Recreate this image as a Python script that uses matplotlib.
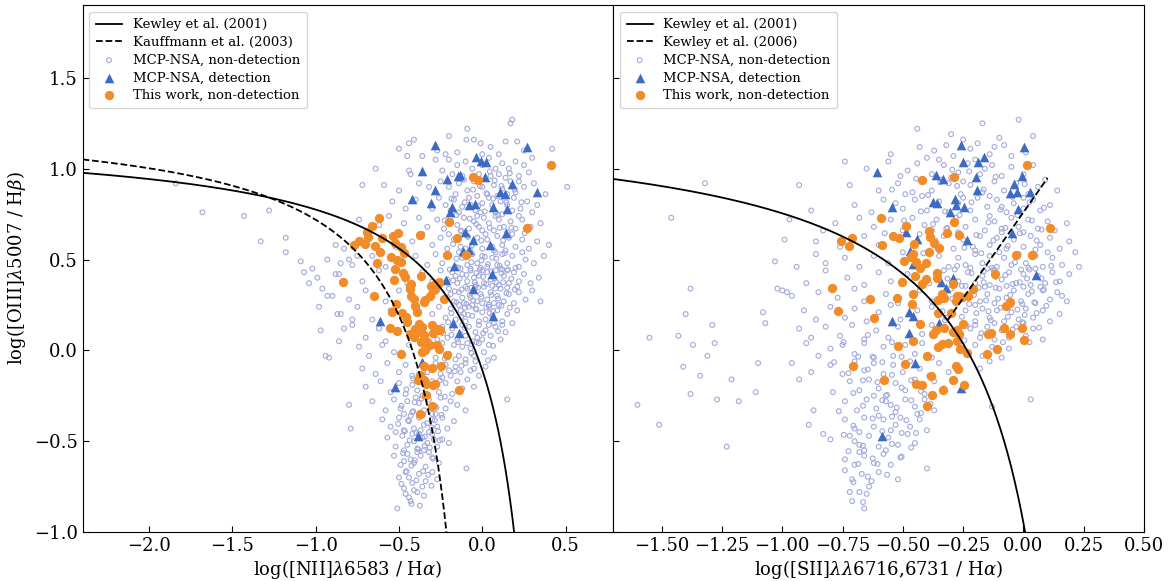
import numpy as np
import matplotlib
matplotlib.use("Agg")
import matplotlib.pyplot as plt

plt.rcParams['font.family'] = ['DejaVu Serif']
plt.rcParams['mathtext.fontset'] = 'dejavuserif'

# ---------------- data: [NII] BPT panel ----------------
nii_cloud = [
 (0.18,1.27),(0.17,1.25),(-0.09,1.22),(-0.2,1.18),(0.21,1.15),(0.14,1.15),(-0.05,1.16),(-0.095,1.16),
 (-0.41,1.16),(-0.44,1.14),(-0.5,1.11),(0.42,1.11),(-0.01,1.14),(-0.27,1.10),(0.05,1.12),(0.25,1.10),(-0.15,1.09),(0.1,1.08),(-0.22,1.08),(0.0,1.08),
 (-0.45,1.07),(-0.36,1.07),(-0.28,1.05),(-0.64,1.0),(-0.44,0.99),(-0.43,0.97),(-0.2,1.05),(-0.15,1.02),(-0.1,1.04),(-0.06,1.0),(0.0,1.02),(0.04,1.06),(0.08,1.0),(0.12,1.03),(0.16,1.0),(0.2,1.04),(0.25,1.02),(0.28,0.98),(-0.24,0.99),(-0.18,0.97),(-0.12,0.96),(0.05,0.96),(0.1,0.97),(0.14,0.95),(0.22,0.96),(-0.02,0.97),(0.3,1.06),
 (-0.72,0.91),(-0.59,0.91),(-0.5,0.88),(-0.38,0.92),(-0.32,0.9),(-0.25,0.93),(-0.2,0.9),(-0.14,0.92),(-0.09,0.88),(-0.05,0.93),(0.0,0.9),(0.03,0.86),(0.07,0.91),(0.12,0.89),(0.17,0.93),(0.2,0.87),(0.25,0.9),(0.31,0.92),(0.38,0.86),(0.51,0.90),(-0.16,0.86),(-0.11,0.94),(0.09,0.85),(0.15,0.86),(-0.03,0.85),(0.22,0.93),
 (-0.54,0.82),(-0.46,0.78),(-0.4,0.83),(-0.3,0.78),(-0.26,0.84),(-0.22,0.8),(-0.17,0.83),(-0.12,0.79),(-0.08,0.84),(-0.04,0.77),(0.0,0.81),(0.04,0.84),(0.08,0.76),(0.11,0.82),(0.15,0.8),(0.19,0.84),(0.23,0.78),(0.27,0.82),(0.33,0.8),(0.3,0.76),(-0.14,0.76),(-0.01,0.76),(0.06,0.8),(0.12,0.75),(-0.19,0.77),(0.18,0.77),(-0.07,0.8),
 (-1.84,0.92),(-1.68,0.76),(-1.43,0.74),(-1.28,0.77),(-1.18,0.62),(-1.33,0.60),(-1.18,0.54),(-1.09,0.49),(-1.07,0.43),(-1.02,0.45),(-0.99,0.40),(-1.04,0.37),(-0.96,0.34),(-0.93,0.30),(-0.98,0.24),(-0.88,0.42),(-0.85,0.48),(-0.80,0.50),(-0.83,0.56),(-0.75,0.52),(-0.97,0.11),(-0.94,-0.03),(-0.92,-0.04),(-0.79,-0.43),(-0.87,0.20),(-0.83,0.12),(-0.78,0.17),(-0.86,0.05),
 (-0.74,0.72),(-0.62,0.69),(-0.56,0.74),(-0.47,0.7),(-0.38,0.73),(-0.33,0.68),(-0.27,0.72),(-0.23,0.67),(-0.19,0.73),(-0.15,0.69),(-0.11,0.73),(-0.08,0.67),(-0.05,0.71),(-0.02,0.68),(0.01,0.73),(0.04,0.7),(0.07,0.66),(0.1,0.72),(0.13,0.68),(0.17,0.71),(0.2,0.67),(0.24,0.72),(0.29,0.68),(0.35,0.7),(0.22,0.74),(-0.13,0.66),(0.0,0.66),(0.15,0.65),(-0.03,0.74),(0.08,0.74),
 (-0.88,0.58),(-0.71,0.6),(-0.6,0.62),(-0.52,0.57),(-0.42,0.6),(-0.36,0.64),(-0.3,0.58),(-0.25,0.62),(-0.21,0.56),(-0.17,0.61),(-0.13,0.57),(-0.09,0.63),(-0.06,0.58),(-0.03,0.62),(0.0,0.56),(0.03,0.61),(0.06,0.57),(0.09,0.63),(0.12,0.58),(0.16,0.62),(0.2,0.57),(0.24,0.61),(0.28,0.56),(0.33,0.6),(0.4,0.58),(-0.1,0.56),(0.14,0.55),(0.02,0.64),(-0.2,0.64),(0.18,0.64),(0.07,0.55),(-0.07,0.55),
 (-0.93,0.5),(-0.78,0.47),(-0.66,0.52),(-0.58,0.46),(-0.4,0.52),(-0.33,0.47),(-0.28,0.53),(-0.24,0.48),(-0.2,0.52),(-0.16,0.46),(-0.12,0.51),(-0.09,0.47),(-0.06,0.53),(-0.03,0.48),(0.0,0.52),(0.03,0.46),(0.06,0.51),(0.09,0.47),(0.12,0.53),(0.15,0.48),(0.18,0.52),(0.22,0.46),(0.26,0.5),(0.31,0.48),(0.37,0.52),(-0.14,0.54),(-0.01,0.455),(0.08,0.54),(0.2,0.455),(-0.07,0.45),(0.11,0.45),(0.24,0.54),
 (-0.86,0.42),(-0.72,0.38),(-0.62,0.44),(-0.45,0.37),(-0.36,0.43),(-0.3,0.38),(-0.25,0.44),(-0.21,0.39),(-0.18,0.43),(-0.15,0.37),(-0.12,0.42),(-0.09,0.38),(-0.07,0.44),(-0.04,0.36),(-0.02,0.41),(0.01,0.37),(0.03,0.43),(0.05,0.39),(0.08,0.44),(0.1,0.36),(0.13,0.41),(0.16,0.37),(0.19,0.43),(0.22,0.38),(0.25,0.42),(0.29,0.37),(0.34,0.4),(-0.1,0.35),(0.0,0.44),(0.06,0.355),(-0.16,0.41),(0.12,0.445),(-0.05,0.4),(0.15,0.44),(0.21,0.35),(-0.13,0.45),
 (-0.9,0.3),(-0.8,0.28),(-0.7,0.33),(-0.58,0.27),(-0.5,0.33),(-0.27,0.33),(-0.23,0.28),(-0.2,0.34),(-0.17,0.27),(-0.14,0.32),(-0.11,0.26),(-0.09,0.34),(-0.07,0.29),(-0.05,0.33),(-0.03,0.27),(-0.01,0.31),(0.01,0.35),(0.03,0.28),(0.05,0.32),(0.07,0.26),(0.09,0.3),(0.11,0.34),(0.13,0.27),(0.16,0.31),(0.19,0.26),(0.22,0.32),(0.26,0.28),(0.35,0.27),(0.3,0.33),(-0.12,0.29),(-0.06,0.25),(0.0,0.26),(-0.04,0.35),(0.04,0.25),(0.08,0.34),(-0.19,0.31),(0.15,0.345),
 (-0.85,0.2),(-0.75,0.24),(-0.66,0.17),(-0.55,0.22),(-0.3,0.2),(-0.26,0.24),(-0.22,0.18),(-0.19,0.23),(-0.16,0.17),(-0.13,0.22),(-0.1,0.16),(-0.08,0.24),(-0.06,0.19),(-0.04,0.23),(-0.02,0.16),(0.0,0.21),(0.02,0.17),(0.04,0.24),(0.06,0.19),(0.09,0.22),(0.12,0.16),(0.15,0.2),(0.18,0.15),(0.21,0.22),(-0.14,0.25),(0.1,0.25),(-0.11,0.2),(0.07,0.15),
 (-0.78,0.14),(-0.7,0.07),(-0.62,0.12),(-0.58,0.05),(-0.27,0.06),(-0.24,0.13),(-0.21,0.07),(-0.18,0.12),(-0.15,0.06),(-0.12,0.14),(-0.1,0.08),(-0.08,0.13),(-0.06,0.05),(-0.04,0.1),(-0.02,0.14),(0.0,0.06),(0.02,0.11),(0.05,0.08),(0.08,0.13),(0.11,0.06),(0.14,0.1),(-0.13,0.09),(-0.03,0.07),(0.04,0.14),
 (-0.74,0.02),(-0.68,-0.03),(-0.6,0.03),(-0.53,-0.01),(-0.44,0.03),(-0.28,-0.04),(-0.24,0.04),(-0.2,-0.02),(-0.17,0.03),(-0.14,-0.03),(-0.12,0.02),(-0.1,-0.05),(-0.07,0.01),(-0.05,-0.03),(-0.02,0.04),(0.01,-0.01),(0.04,0.03),(0.07,-0.04),(-0.16,-0.05),(-0.09,0.04),
 (-0.72,-0.1),(-0.64,-0.13),(-0.57,-0.07),(-0.5,-0.12),(-0.46,-0.08),(-0.42,-0.14),(-0.33,-0.12),(-0.28,-0.07),(-0.25,-0.13),(-0.22,-0.08),(-0.19,-0.14),(-0.16,-0.09),(-0.13,-0.12),(-0.1,-0.07),(-0.07,-0.11),(-0.04,-0.06),(-0.02,-0.14),(0.02,-0.09),(-0.3,-0.1),(-0.2,-0.11),
 (-0.7,-0.2),(-0.61,-0.17),(-0.55,-0.23),(-0.5,-0.18),(-0.46,-0.24),(-0.42,-0.19),(-0.39,-0.22),(-0.3,-0.17),(-0.26,-0.23),(-0.22,-0.18),(-0.18,-0.24),(-0.15,-0.17),(-0.12,-0.21),(-0.09,-0.16),(-0.05,-0.2),(0.15,-0.27),(-0.36,-0.25),(-0.24,-0.15),
 (-0.8,-0.3),(-0.66,-0.28),(-0.58,-0.33),(-0.53,-0.27),(-0.49,-0.32),(-0.45,-0.28),(-0.42,-0.34),(-0.38,-0.29),(-0.35,-0.33),(-0.32,-0.27),(-0.28,-0.31),(-0.25,-0.26),(-0.22,-0.32),(-0.19,-0.28),(-0.15,-0.3),(-0.1,-0.33),(-0.4,-0.26),(-0.3,-0.35),(-0.47,-0.35),
 (-0.6,-0.38),(-0.55,-0.42),(-0.5,-0.37),(-0.47,-0.44),(-0.44,-0.39),(-0.41,-0.43),(-0.38,-0.37),(-0.35,-0.41),(-0.32,-0.45),(-0.3,-0.38),(-0.27,-0.42),(-0.24,-0.37),(-0.21,-0.43),(-0.17,-0.39),(-0.43,-0.36),(-0.37,-0.44),(-0.52,-0.45),(-0.28,-0.35),(-0.33,-0.4),
 (-0.57,-0.48),(-0.52,-0.53),(-0.48,-0.47),(-0.45,-0.52),(-0.42,-0.46),(-0.39,-0.54),(-0.36,-0.48),(-0.33,-0.51),(-0.3,-0.46),(-0.27,-0.53),(-0.24,-0.49),(-0.2,-0.51),(-0.41,-0.5),(-0.35,-0.55),(-0.29,-0.49),(-0.47,-0.55),(-0.38,-0.46),
 (-0.53,-0.58),(-0.49,-0.63),(-0.45,-0.57),(-0.41,-0.62),(-0.37,-0.58),(-0.34,-0.64),(-0.3,-0.59),(-0.26,-0.62),(-0.43,-0.6),(-0.39,-0.56),(-0.32,-0.56),(-0.095,-0.65),(-0.47,-0.61),
 (-0.5,-0.7),(-0.46,-0.67),(-0.42,-0.73),(-0.38,-0.68),(-0.34,-0.72),(-0.3,-0.67),(-0.44,-0.7),(-0.36,-0.75),(-0.27,-0.71),
 (-0.51,-0.87),(-0.46,-0.79),(-0.39,-0.78),(-0.43,-0.83),(-0.47,-0.76),(-0.41,-0.77),(-0.35,-0.8),(-0.44,-0.81),
]

nii_cloud_dense = [
 (-0.185,0.205),(-0.155,0.265),(-0.125,0.335),(-0.095,0.415),(-0.065,0.485),(-0.035,0.225),(-0.005,0.295),(0.025,0.365),(0.055,0.435),(0.085,0.505),
 (0.115,0.245),(0.145,0.315),(-0.175,0.385),(-0.145,0.455),(-0.115,0.525),(-0.085,0.195),(-0.055,0.275),(-0.025,0.345),(0.005,0.405),(0.035,0.475),
 (0.065,0.215),(0.095,0.285),(0.125,0.375),(0.155,0.445),(-0.165,0.325),(-0.135,0.395),(-0.105,0.235),(-0.075,0.305),(-0.045,0.375),(-0.015,0.445),
 (0.015,0.515),(0.045,0.205),(0.075,0.395),(0.105,0.465),(0.135,0.535),(-0.155,0.505),(-0.125,0.185),(-0.095,0.255),(-0.065,0.345),(-0.035,0.425),
 (-0.005,0.495),(0.025,0.235),(0.055,0.305),(0.085,0.375),(0.115,0.425),(-0.195,0.445),(0.175,0.395),(0.195,0.335),(-0.21,0.29),(0.165,0.235),
 (-0.175,0.585),(-0.125,0.655),(-0.075,0.725),(-0.025,0.795),(0.025,0.865),(0.075,0.935),(0.125,0.605),(0.175,0.675),(-0.155,0.745),(-0.105,0.815),
 (-0.055,0.885),(-0.005,0.605),(0.045,0.675),(0.095,0.745),(0.145,0.815),(0.195,0.885),(-0.135,0.955),(-0.085,0.625),(-0.035,0.695),(0.015,0.765),
 (0.065,0.835),(0.115,0.905),(0.165,0.975),(-0.185,0.835),(0.235,0.815),(0.255,0.645),(-0.225,0.715),(0.045,0.985),(-0.015,0.905),(0.105,0.675),
 (-0.455,-0.215),(-0.405,-0.285),(-0.355,-0.355),(-0.305,-0.425),(-0.255,-0.495),(-0.475,-0.565),(-0.425,-0.635),(-0.375,-0.175),(-0.325,-0.245),(-0.275,-0.315),
 (-0.445,-0.385),(-0.395,-0.455),(-0.345,-0.525),(-0.295,-0.595),(-0.485,-0.305),(-0.435,-0.495),(-0.385,-0.545),(-0.335,-0.195),(-0.285,-0.385),(-0.465,-0.445),
 (-0.415,-0.335),(-0.365,-0.265),(-0.315,-0.535),(-0.265,-0.445),(-0.405,-0.605),(-0.355,-0.665),(-0.455,-0.665),(-0.395,-0.715),(-0.345,-0.475),(-0.505,-0.405),
 (-0.245,-0.355),(-0.225,-0.255),(-0.355,-0.125),(-0.255,-0.165),(-0.415,-0.155),(-0.425,-0.845),(-0.375,-0.855),(-0.485,-0.735),(-0.325,-0.685),(-0.305,-0.745),
 (-0.225,-0.045),(-0.185,0.085),(-0.165,-0.115),(-0.205,0.155),(-0.145,0.045),(-0.235,0.095),(-0.125,-0.085),(-0.105,0.125),(-0.065,-0.015),(-0.035,0.045),
 (0.005,0.095),(0.035,-0.055),(0.065,0.025),(0.095,0.105),(-0.05,-0.1),(0.12,0.14),
]

nii_det = [
 (-0.285,1.130),(0.266,1.119),(-0.04,1.062),(-0.01,1.04),(0.02,1.038),(-0.364,0.985),(-0.131,0.967),(-0.147,0.96),
 (0.019,0.956),(-0.213,0.945),(-0.285,0.883),(0.181,0.916),(0.105,0.874),(0.139,0.863),(0.33,0.874),(-0.424,0.832),
 (-0.309,0.813),(-0.183,0.788),(-0.195,0.764),(-0.081,0.80),(-0.041,0.806),(0.065,0.788),(0.15,0.778),(-0.101,0.654),
 (0.144,0.647),(-0.055,0.61),(0.049,0.581),(-0.115,0.549),(-0.077,0.555),(-0.167,0.463),(0.057,0.418),(-0.217,0.39),
 (-0.057,0.339),(0.063,0.187),(-0.616,0.163),(-0.173,0.15),(-0.137,0.097),(-0.361,-0.064),(-0.526,-0.2),(-0.383,-0.473),
]

nii_this = [
 (0.41,1.022),(-0.057,0.952),(-0.027,0.938),(-0.622,0.729),(-0.66,0.683),(-0.199,0.709),(0.27,0.674),(-0.692,0.65),
 (-0.504,0.648),(-0.538,0.63),(-0.371,0.637),(-0.742,0.604),(-0.768,0.582),(-0.706,0.586),(-0.688,0.623),(-0.151,0.617),
 (-0.644,0.575),(-0.604,0.619),(-0.526,0.593),(-0.486,0.568),(-0.616,0.54),(-0.468,0.535),(-0.546,0.513),(-0.211,0.526),
 (-0.097,0.526),(-0.511,0.495),(-0.487,0.485),(-0.634,0.48),(-0.522,0.449),(-0.476,0.427),(-0.464,0.403),(-0.367,0.408),
 (-0.528,0.39),(-0.838,0.374),(-0.43,0.366),(-0.265,0.366),(-0.289,0.335),(-0.436,0.339),(-0.648,0.298),(-0.431,0.357),
 (-0.305,0.352),(-0.281,0.366),(-0.261,0.375),(-0.295,0.33),(-0.311,0.302),(-0.341,0.275),(-0.352,0.265),(-0.425,0.302),
 (-0.412,0.284),(-0.401,0.247),(-0.391,0.21),(-0.231,0.284),(-0.52,0.253),(-0.541,0.21),(-0.481,0.207),(-0.46,0.183),
 (-0.451,0.156),(-0.554,0.123),(-0.512,0.104),(-0.431,0.092),(-0.401,0.119),(-0.381,0.147),(-0.391,0.101),(-0.361,0.128),
 (-0.412,0.073),(-0.352,0.082),(-0.301,0.137),(-0.295,0.095),(-0.267,0.119),(-0.251,0.11),(-0.365,0.046),(-0.331,0.046),
 (-0.311,0.027),(-0.271,0.027),(-0.261,0.009),(-0.361,-0.009),(-0.341,0.0),(-0.212,-0.027),(-0.487,-0.022),(-0.352,-0.088),
 (-0.301,-0.095),(-0.245,-0.086),(-0.371,-0.137),(-0.352,-0.161),(-0.385,-0.165),(-0.337,-0.183),(-0.296,-0.192),(-0.281,-0.187),
 (-0.141,-0.22),(-0.337,-0.247),(-0.301,-0.308),(-0.371,-0.348),
]

# ---------------- data: [SII] BPT panel ----------------
sii_cloud = [
 (-0.02,1.27),(-0.17,1.25),(-0.44,1.22),(-0.1,1.17),(-0.3,1.19),(-0.25,1.16),(0.04,1.18),
 (-0.43,1.12),(-0.37,1.1),(-0.32,1.13),(-0.22,1.11),(-0.14,1.08),(-0.08,1.13),(-0.05,1.07),(0.01,1.09),(-0.29,1.07),(-0.4,1.06),(-0.19,1.14),(-0.55,1.08),(-0.12,1.12),
 (-0.74,1.04),(-0.65,1.0),(-0.56,1.04),(-0.48,0.99),(-0.44,1.03),(-0.38,0.97),(-0.33,1.02),(-0.27,0.98),(-0.23,1.03),(-0.18,0.97),(-0.13,1.02),(-0.09,0.96),(-0.05,1.01),(0.0,0.97),(0.04,1.02),(-0.51,0.96),(-0.3,0.95),(-0.16,1.0),(-0.2,1.05),(-0.35,1.05),
 (-0.93,0.91),(-0.72,0.91),(-0.6,0.88),(-0.52,0.92),(-0.46,0.87),(-0.42,0.93),(-0.38,0.88),(-0.31,0.92),(-0.26,0.86),(-0.22,0.91),(-0.17,0.87),(-0.12,0.93),(-0.08,0.88),(-0.03,0.92),(0.02,0.86),(0.06,0.9),(0.14,0.88),(-0.49,0.86),(-0.34,0.94),(-0.14,0.85),(0.09,0.94),(-0.25,0.93),
 (-1.32,0.92),(-0.88,0.77),(-0.7,0.8),(-0.63,0.76),(-0.58,0.83),(-0.5,0.78),(-0.45,0.83),(-0.4,0.77),(-0.35,0.82),(-0.31,0.76),(-0.27,0.81),(-0.22,0.77),(-0.19,0.84),(-0.15,0.79),(-0.11,0.83),(-0.07,0.76),(-0.04,0.81),(0.0,0.78),(0.04,0.83),(0.07,0.77),(0.11,0.8),(-0.42,0.85),(-0.25,0.84),(-0.09,0.79),(0.0,0.84),(-0.53,0.81),
 (-1.46,0.73),(-0.97,0.72),(-0.83,0.66),(-0.78,0.7),(-0.68,0.73),(-0.62,0.68),(-0.55,0.72),(-0.5,0.66),(-0.46,0.73),(-0.41,0.69),(-0.36,0.72),(-0.32,0.67),(-0.28,0.73),(-0.24,0.68),(-0.2,0.72),(-0.16,0.66),(-0.12,0.71),(-0.09,0.67),(-0.05,0.73),(-0.02,0.68),(0.02,0.72),(0.06,0.67),(0.1,0.71),(0.18,0.70),(0.13,0.66),(-0.38,0.66),(-0.14,0.74),(0.0,0.65),
 (-0.99,0.61),(-0.86,0.6),(-0.76,0.57),(-0.66,0.63),(-0.6,0.58),(-0.53,0.62),(-0.43,0.64),(-0.37,0.58),(-0.33,0.63),(-0.29,0.56),(-0.25,0.61),(-0.21,0.57),(-0.18,0.63),(-0.14,0.58),(-0.11,0.62),(-0.07,0.56),(-0.04,0.61),(0.0,0.57),(0.03,0.63),(0.07,0.58),(0.11,0.62),(0.15,0.56),(0.19,0.6),(-0.27,0.65),(-0.09,0.65),(0.05,0.555),(-0.2,0.55),
 (-1.03,0.49),(-0.94,0.46),(-0.86,0.53),(-0.82,0.48),(-0.74,0.51),(-0.68,0.46),(-0.62,0.52),(-0.56,0.48),(-0.5,0.54),(-0.41,0.47),(-0.35,0.52),(-0.31,0.46),(-0.27,0.51),(-0.24,0.47),(-0.2,0.53),(-0.17,0.48),(-0.14,0.52),(-0.11,0.46),(-0.08,0.51),(-0.05,0.47),(-0.02,0.53),(0.01,0.48),(0.05,0.52),(0.08,0.46),(0.12,0.51),(0.16,0.47),(0.215,0.54),(0.23,0.46),(-0.22,0.455),(-0.13,0.455),(0.02,0.455),(-0.1,0.54),(0.1,0.54),
 (-0.9,0.37),(-0.82,0.44),(-0.73,0.4),(-0.66,0.36),(-0.6,0.43),(-0.55,0.38),(-0.48,0.42),(-0.39,0.37),(-0.33,0.44),(-0.27,0.38),(-0.23,0.43),(-0.2,0.37),(-0.17,0.41),(-0.14,0.36),(-0.12,0.44),(-0.09,0.39),(-0.06,0.43),(-0.03,0.37),(0.0,0.42),(0.03,0.36),(0.06,0.41),(0.09,0.37),(0.12,0.43),(0.15,0.38),(0.19,0.42),(-0.15,0.45),(-0.01,0.445),(-0.24,0.355),(-0.07,0.355),(0.05,0.45),
 (-1.38,0.34),(-1.02,0.34),(-1.0,0.33),(-0.98,0.32),(-0.96,0.3),(-0.85,0.32),(-0.77,0.29),(-0.7,0.34),(-0.66,0.27),(-0.57,0.31),(-0.52,0.26),(-0.43,0.33),(-0.38,0.27),(-0.3,0.34),(-0.25,0.28),(-0.21,0.33),(-0.18,0.27),(-0.15,0.31),(-0.12,0.26),(-0.1,0.34),(-0.07,0.29),(-0.04,0.33),(-0.01,0.27),(0.02,0.31),(0.05,0.26),(0.08,0.33),(0.11,0.28),(0.14,0.32),(0.18,0.27),(-0.16,0.35),(-0.05,0.25),(0.0,0.35),(-0.2,0.25),(0.07,0.35),(0.16,0.3),
 (-1.4,0.2),(-1.08,0.21),(-0.91,0.22),(-0.86,0.17),(-0.8,0.24),(-0.74,0.18),(-0.7,0.23),(-0.65,0.16),(-0.6,0.21),(-0.55,0.25),(-0.51,0.17),(-0.44,0.22),(-0.38,0.24),(-0.32,0.18),(-0.24,0.22),(-0.2,0.16),(-0.17,0.23),(-0.14,0.18),(-0.11,0.22),(-0.08,0.16),(-0.05,0.21),(-0.02,0.17),(0.01,0.23),(0.04,0.18),(0.08,0.22),(0.11,0.16),(0.15,0.2),(-0.12,0.15),(0.0,0.15),
 (-1.29,0.14),(-1.07,0.15),(-1.43,0.08),(-1.55,0.07),(-0.93,0.12),(-0.88,0.07),(-0.82,0.13),(-0.76,0.08),(-0.71,0.14),(-0.66,0.06),(-0.61,0.11),(-0.56,0.07),(-0.52,0.13),(-0.42,0.09),(-0.38,0.14),(-0.22,0.12),(-0.18,0.07),(-0.15,0.13),(-0.12,0.06),(-0.09,0.11),(-0.06,0.07),(-0.03,0.13),(0.01,0.08),(0.04,0.12),(0.08,0.06),(-0.2,0.14),
 (-1.37,0.03),(-1.28,0.04),(-1.31,-0.03),(-0.9,0.04),(-0.8,0.01),(-0.85,-0.03),(-0.75,0.03),(-0.7,-0.02),(-0.66,0.04),(-0.62,-0.04),(-0.58,0.02),(-0.54,-0.03),(-0.49,0.03),(-0.45,-0.02),(-0.42,0.04),(-0.38,-0.04),(-0.2,0.03),(-0.17,-0.03),(-0.13,0.02),(-0.09,-0.04),(-0.06,0.01),
 (-1.1,-0.07),(-1.41,-0.09),(-1.34,-0.14),(-0.96,-0.07),(-0.88,-0.12),(-0.8,-0.08),(-0.75,-0.13),(-0.7,-0.06),(-0.66,-0.11),(-0.62,-0.07),(-0.58,-0.13),(-0.54,-0.08),(-0.5,-0.12),(-0.47,-0.06),(-0.43,-0.1),(-0.39,-0.14),(-0.35,-0.07),(-0.31,-0.12),(-0.18,-0.1),(-0.14,-0.06),
 (-1.21,-0.16),(-1.38,-0.24),(-1.11,-0.23),(-0.93,-0.16),(-0.79,-0.23),(-0.72,-0.17),(-0.68,-0.22),(-0.64,-0.16),(-0.6,-0.21),(-0.57,-0.25),(-0.53,-0.18),(-0.49,-0.22),(-0.45,-0.16),(-0.41,-0.24),(-0.37,-0.17),(-0.33,-0.21),(-0.29,-0.16),(-0.62,-0.25),
 (-1.6,-0.3),(-1.27,-0.27),(-1.18,-0.28),(-0.87,-0.33),(-0.74,-0.28),(-0.69,-0.33),(-0.65,-0.27),(-0.61,-0.32),(-0.57,-0.28),(-0.53,-0.34),(-0.49,-0.27),(-0.45,-0.31),(-0.41,-0.27),(-0.37,-0.33),(-0.13,-0.31),(0.03,-0.27),(-0.55,-0.3),(-0.44,-0.35),
 (-1.51,-0.41),(-0.89,-0.41),(-0.74,-0.38),(-0.7,-0.43),(-0.66,-0.37),(-0.62,-0.42),(-0.58,-0.38),(-0.55,-0.44),(-0.51,-0.37),(-0.47,-0.42),(-0.43,-0.38),(-0.4,-0.44),(-0.6,-0.36),(-0.68,-0.45),(-0.53,-0.41),
 (-1.23,-0.53),(-0.83,-0.46),(-0.8,-0.49),(-0.72,-0.47),(-0.68,-0.52),(-0.64,-0.47),(-0.6,-0.53),(-0.56,-0.48),(-0.52,-0.52),(-0.48,-0.46),(-0.45,-0.51),(-0.66,-0.55),(-0.57,-0.55),(-0.7,-0.5),
 (-0.74,-0.6),(-0.7,-0.63),(-0.66,-0.58),(-0.62,-0.62),(-0.58,-0.57),(-0.55,-0.63),(-0.51,-0.59),(-0.4,-0.65),(-0.68,-0.56),
 (-0.74,-0.66),(-0.71,-0.71),(-0.67,-0.68),(-0.63,-0.72),(-0.6,-0.67),(-0.52,-0.71),(-0.64,-0.75),
 (-0.66,-0.87),(-0.71,-0.83),(-0.65,-0.79),(-0.72,-0.78),(-0.68,-0.78),
]

sii_cloud_dense = [
 (-0.335,0.215),(-0.295,0.285),(-0.255,0.355),(-0.215,0.425),(-0.175,0.095),(-0.135,0.165),(-0.095,0.235),(-0.055,0.305),(-0.015,0.375),(0.025,0.445),
 (0.065,0.125),(-0.315,0.395),(-0.275,0.465),(-0.235,0.135),(-0.195,0.205),(-0.155,0.275),(-0.115,0.345),(-0.075,0.415),(-0.035,0.485),(0.005,0.195),
 (0.045,0.265),(0.085,0.335),(-0.245,0.055),(-0.205,0.305),(-0.165,0.375),(-0.125,0.445),(-0.085,0.045),(-0.045,0.115),(-0.005,0.255),(0.035,0.325),
 (0.075,0.395),(0.115,0.465),(-0.325,0.165),(-0.285,0.445),(-0.145,0.215),(-0.105,0.285),(-0.065,0.185),(-0.025,0.225),(0.015,0.395),(0.055,0.205),
 (-0.185,0.345),(-0.225,0.255),(0.095,0.245),(0.135,0.375),(-0.255,0.185),(-0.115,0.405),(-0.045,0.365),(0.025,0.045),(-0.005,0.155),(-0.165,0.435),
 (-0.415,0.535),(-0.365,0.605),(-0.315,0.675),(-0.265,0.745),(-0.215,0.815),(-0.165,0.885),(-0.115,0.955),(-0.065,0.575),(-0.015,0.645),(0.035,0.715),
 (0.085,0.785),(-0.395,0.855),(-0.345,0.925),(-0.295,0.995),(-0.245,0.565),(-0.195,0.635),(-0.145,0.705),(-0.095,0.775),(-0.045,0.845),(0.005,0.915),
 (0.055,0.605),(-0.425,0.765),(-0.375,0.695),(-0.325,0.765),(-0.275,0.905),(-0.225,0.985),(-0.175,0.535),(-0.125,0.605),(-0.075,0.675),(-0.025,0.745),
 (0.025,0.815),(0.075,0.665),(-0.445,0.945),(-0.495,0.715),(-0.545,0.885),(-0.575,0.645),
 (-0.685,-0.035),(-0.645,-0.105),(-0.605,-0.175),(-0.565,-0.245),(-0.525,-0.315),(-0.485,-0.385),(-0.445,-0.455),(-0.665,-0.525),(-0.625,-0.595),(-0.585,-0.065),
 (-0.545,-0.135),(-0.505,-0.205),(-0.465,-0.275),(-0.425,-0.345),(-0.705,-0.415),(-0.665,-0.305),(-0.625,-0.375),(-0.585,-0.445),(-0.545,-0.515),(-0.505,-0.585),
 (-0.705,-0.235),(-0.665,-0.165),(-0.625,-0.035),(-0.585,-0.275),(-0.545,-0.365),(-0.505,-0.455),(-0.465,-0.535),(-0.685,-0.625),(-0.645,-0.695),(-0.605,-0.625),
 (-0.565,-0.685),(-0.725,-0.555),(-0.745,-0.465),(-0.765,-0.335),(-0.725,-0.125),(-0.465,-0.165),(-0.425,-0.225),(-0.385,-0.295),(-0.505,-0.035),(-0.545,0.045),
 (-0.645,0.085),(-0.745,0.045),(-0.785,-0.065),(-0.705,-0.725),(-0.665,-0.835),
]

sii_det = [
 (-0.257,1.13),(0.002,1.117),(-0.25,1.035),(-0.189,1.037),(-0.163,1.062),(-0.605,0.984),(-0.363,0.965),(-0.335,0.943),
 (-0.198,0.952),(-0.006,0.958),(-0.039,0.916),(-0.192,0.883),(-0.054,0.864),(-0.027,0.874),(0.028,0.874),(-0.283,0.833),
 (-0.375,0.815),(-0.357,0.811),(-0.28,0.802),(-0.246,0.791),(-0.546,0.788),(-0.304,0.764),(-0.023,0.778),(-0.488,0.654),
 (-0.44,0.613),(-0.236,0.608),(-0.048,0.645),(-0.47,0.549),(-0.459,0.473),(0.05,0.416),(-0.342,0.375),(-0.294,0.396),
 (-0.321,0.342),(-0.473,0.21),(-0.457,0.187),(-0.546,0.161),(-0.349,0.15),(-0.473,0.095),(-0.448,-0.068),(-0.259,-0.205),
 (-0.585,-0.473),
]

sii_this = [
 (0.013,1.022),(-0.421,0.94),(-0.288,0.954),(-0.589,0.731),(-0.487,0.683),(-0.286,0.709),(0.112,0.676),(-0.39,0.656),
 (-0.316,0.647),(-0.268,0.636),(-0.54,0.628),(-0.517,0.617),(-0.711,0.621),(-0.758,0.601),(-0.725,0.573),(-0.586,0.581),
 (-0.388,0.623),(-0.371,0.592),(-0.349,0.566),(-0.454,0.586),(-0.39,0.544),(-0.457,0.531),(-0.466,0.513),(-0.445,0.485),
 (-0.495,0.493),(-0.404,0.48),(-0.429,0.452),(-0.032,0.526),(0.035,0.526),(-0.118,0.421),(-0.357,0.427),(-0.36,0.397),
 (-0.451,0.407),(-0.405,0.392),(-0.505,0.374),(-0.419,0.363),(-0.294,0.368),(-0.211,0.339),(-0.793,0.341),(-0.459,0.311),
 (-0.337,0.311),(-0.636,0.284),(-0.525,0.29),(-0.277,0.302),(-0.257,0.293),(-0.229,0.297),(-0.33,0.29),(-0.353,0.278),
 (-0.269,0.302),(-0.281,0.271),(-0.057,0.265),(-0.071,0.242),(-0.462,0.253),(-0.767,0.214),(-0.618,0.18),(-0.353,0.207),
 (-0.301,0.205),(-0.429,0.147),(-0.328,0.125),(-0.25,0.147),(-0.291,0.101),(-0.277,0.11),(-0.268,0.088),(-0.363,0.11),
 (-0.374,0.092),(-0.459,0.049),(-0.339,0.037),(-0.314,0.04),(-0.353,0.018),(-0.277,0.049),(-0.264,0.009),(-0.232,-0.013),
 (-0.145,0.092),(-0.134,0.097),(-0.082,0.123),(-0.056,0.092),(-0.006,0.125),(0.002,0.059),(-0.152,-0.022),(-0.109,0.009),
 (-0.519,0.022),(-0.401,-0.031),(-0.491,-0.073),(-0.707,-0.088),(-0.281,-0.088),(-0.273,-0.101),(-0.576,-0.161),(-0.385,-0.141),
 (-0.293,-0.165),(-0.445,-0.187),(-0.422,-0.192),(-0.247,-0.189),(-0.333,-0.22),(-0.377,-0.247),(-0.401,-0.308),
]

# demarcation line coefficients (published)
kew01_nii = (0.61, 0.47, 1.19)
kauf03_nii = (0.61, 0.05, 1.30)
kew01_sii = (0.72, 0.32, 1.30)
kew06_sii = (1.89, 0.76)

c_light = '#a3aadb'
c_det = '#3b6bc4'
c_this = '#f28c28'

fig, (ax1, ax2) = plt.subplots(1, 2, figsize=(11.71, 5.81), dpi=100, sharey=True)
fig.subplots_adjust(left=0.0705, right=0.977, bottom=0.0843, top=0.991, wspace=0)

def arr(pts):
    a = np.array(pts)
    return a[:, 0], a[:, 1]

# left panel
a, b, c = kew01_nii
x = np.linspace(-2.4, b - 0.001, 400)
ax1.plot(x, a / (x - b) + c, color='k', lw=1.3, label='Kewley et al. (2001)')
a, b, c = kauf03_nii
x = np.linspace(-2.4, b - 0.001, 400)
ax1.plot(x, a / (x - b) + c, color='k', lw=1.3, ls='--', label='Kauffmann et al. (2003)')
xs, ys = arr(nii_cloud + nii_cloud_dense)
ax1.scatter(xs, ys, s=12, facecolors='none', edgecolors=c_light, linewidths=0.8, label='MCP-NSA, non-detection')
xs, ys = arr(nii_det)
ax1.scatter(xs, ys, s=48, marker='^', color=c_det, linewidths=0, label='MCP-NSA, detection')
xs, ys = arr(nii_this)
ax1.scatter(xs, ys, s=45, color=c_this, linewidths=0, label='This work, non-detection')

# right panel
a, b, c = kew01_sii
x = np.linspace(-1.7, b - 0.001, 400)
ax2.plot(x, a / (x - b) + c, color='k', lw=1.3, label='Kewley et al. (2001)')
m, q = kew06_sii
x = np.linspace(-0.3146, 0.1, 50)
ax2.plot(x, m * x + q, color='k', lw=1.3, ls='--', label='Kewley et al. (2006)')
xs, ys = arr(sii_cloud + sii_cloud_dense)
ax2.scatter(xs, ys, s=12, facecolors='none', edgecolors=c_light, linewidths=0.8, label='MCP-NSA, non-detection')
xs, ys = arr(sii_det)
ax2.scatter(xs, ys, s=48, marker='^', color=c_det, linewidths=0, label='MCP-NSA, detection')
xs, ys = arr(sii_this)
ax2.scatter(xs, ys, s=45, color=c_this, linewidths=0, label='This work, non-detection')

ax1.set_xlim(-2.4, 0.787)
ax2.set_xlim(-1.7, 0.5)
ax1.set_ylim(-1.0, 1.9)
ax1.set_xticks([-2.0, -1.5, -1.0, -0.5, 0.0, 0.5])
ax2.set_xticks([-1.5, -1.25, -1.0, -0.75, -0.5, -0.25, 0.0, 0.25, 0.5])
ax2.set_xticklabels(['−1.50', '−1.25', '−1.00', '−0.75', '−0.50', '−0.25', '0.00', '0.25', '0.50'])
ax1.set_yticks([-1.0, -0.5, 0.0, 0.5, 1.0, 1.5])

for ax in (ax1, ax2):
    ax.tick_params(direction='in', labelsize=13, length=4, width=0.8)
    ax.legend(loc='upper left', fontsize=9.5, scatterpoints=1, handlelength=2.0,
              borderpad=0.5, labelspacing=0.35, framealpha=0.8)

ax1.set_xlabel(r'log([NII]$\lambda$6583 / H$\alpha$)', fontsize=13, labelpad=2)
ax2.set_xlabel(r'log([SII]$\lambda\lambda$6716,6731 / H$\alpha$)', fontsize=13, labelpad=2)
ax1.set_ylabel(r'log([OIII]$\lambda$5007 / H$\beta$)', fontsize=13, labelpad=4)

fig.savefig('out.png', dpi=100)
